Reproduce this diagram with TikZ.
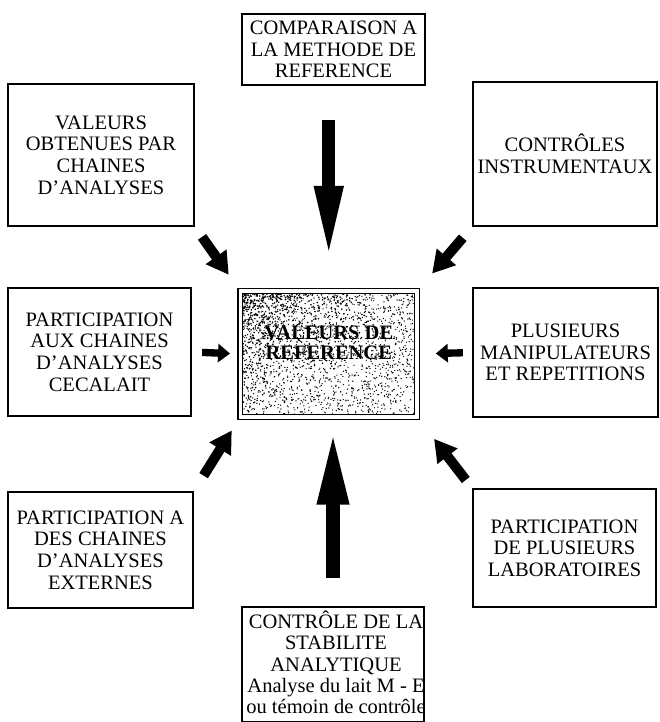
\documentclass[tikz,border=0pt]{standalone}
\usepackage{fontspec}
\setmainfont{Liberation Serif}
\usetikzlibrary{arrows.meta,calc}

\begin{document}
\begin{tikzpicture}[x=0.03cm,y=-0.03cm]
\tikzstyle{box}=[rectangle,draw,line width=1.9pt,align=center,inner sep=0pt,font=\fontsize{17.5}{18.5}\selectfont]
\tikzstyle{bigarrow}=[line width=0.38cm,-{Triangle[width=0.78cm,length=2.2cm]}]
\tikzstyle{diagarrow}=[line width=0.3cm,-{Triangle[width=0.72cm,length=0.66cm]}]
\tikzstyle{smallarrow}=[line width=0.22cm,-{Triangle[width=0.54cm,length=0.36cm]}]

\useasboundingbox (0,0) rectangle (659,722);

\node[box,minimum width=5.49cm,minimum height=2.13cm] (cmp) at (333.5,49.5) {COMPARAISON A\\LA METHODE DE\\REFERENCE};
\node[box,minimum width=5.58cm,minimum height=4.26cm] (obt) at (101,155) {VALEURS\\OBTENUES PAR\\CHAINES\\D'ANALYSES};
\node[box,minimum width=5.52cm,minimum height=4.32cm] (ins) at (565,154) {CONTRÔLES\\INSTRUMENTAUX};
\node[box,minimum width=5.49cm,minimum height=3.84cm] (cec) at (99.5,352) {PARTICIPATION\\AUX CHAINES\\D'ANALYSES\\CECALAIT};
\node[box,minimum width=5.55cm,minimum height=3.87cm] (man) at (565.5,352.5) {PLUSIEURS\\MANIPULATEURS\\ET REPETITIONS};
\node[box,minimum width=5.55cm,minimum height=3.48cm] (ext) at (100.5,550) {PARTICIPATION A\\DES CHAINES\\D'ANALYSES\\EXTERNES};
\node[box,minimum width=5.49cm,minimum height=3.54cm] (lab) at (564.5,548) {PARTICIPATION\\DE PLUSIEURS\\LABORATOIRES};

% centre : double cadre et fond grene
\pgfmathsetseed{7}
\node[box,line width=1.2pt,double,double distance=0.1cm,minimum width=5.3cm,minimum height=3.78cm,
  text depth=0.7cm,font=\fontsize{17.5}{17}\selectfont\bfseries,
  path picture={
    \foreach \i in {1,...,700}
      \fill ($(path picture bounding box.north west)+(rnd*rnd*5.3cm,-rnd*rnd*3.78cm)$) circle (0.75pt);
    \foreach \i in {1,...,1700}
      \fill ($(path picture bounding box.north west)+(rnd*5.3cm,-rnd*3.78cm)$) circle (0.6pt);
  }] (ref) at (328.75,354) {VALEURS DE\\REFERENCE};

% cadre du bas, texte coupe par le bord
\begin{scope}
\clip (242,607) rectangle (424,722);
\node[align=center,anchor=north,inner sep=0pt,font=\fontsize{17.5}{18}\selectfont] (statxt) at (336,611) {CONTRÔLE DE LA\\STABILITE\\ANALYTIQUE\\Analyse du lait M - E\\ou témoin de contrôle};
\end{scope}
\node[box,minimum width=5.46cm,minimum height=3.45cm] (sta) at (333,664.5) {};

% fleches
\draw[bigarrow,shorten <=1.02cm,shorten >=0.93cm] (cmp.south -| ref.north) -- (ref.north);
\draw[bigarrow,line width=0.4cm,-{Triangle[width=0.86cm,length=2.25cm]},shorten <=0.84cm,shorten >=0.36cm] (sta.north) -- (sta.north |- ref.south);
\draw[diagarrow,shorten <=0.36cm,shorten >=0.57cm] (obt.south east) -- (ref.north west);
\draw[diagarrow,shorten <=0.42cm,shorten >=0.66cm] (ins.south west) -- (ref.north east);
\draw[diagarrow,shorten <=0.54cm,shorten >=0.45cm] (ext.north east) -- (ref.south west);
\draw[diagarrow,shorten <=0.3cm,shorten >=0.8cm] (lab.north west) -- (ref.south east);
\draw[smallarrow,yshift=-0.2cm,shorten <=0.3cm,shorten >=0.29cm] (cec.east) -- (ref.west);
\draw[smallarrow,yshift=-0.2cm,shorten <=0.27cm,shorten >=0.54cm] (man.west) -- (ref.east);

\end{tikzpicture}
\end{document}
